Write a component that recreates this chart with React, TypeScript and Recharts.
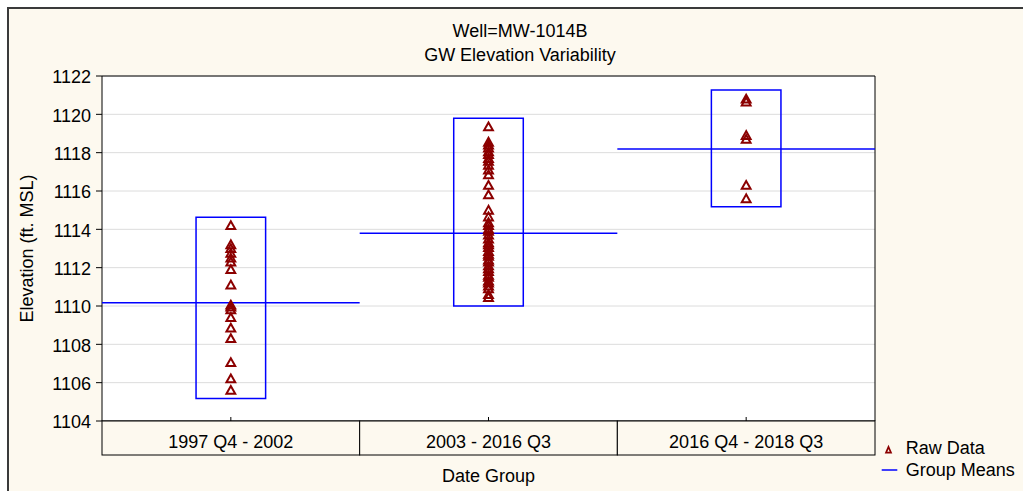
import React from 'react';
import {
  ComposedChart,
  Scatter,
  XAxis,
  YAxis,
  CartesianGrid,
  ReferenceArea,
  ReferenceLine,
  Legend,
} from 'recharts';

// groups along the x axis
const groups = ['1997 Q4 - 2002', '2003 - 2016 Q3', '2016 Q4 - 2018 Q3'];

// raw elevations (ft. MSL) per group
const group1Values = [
  1114.2, 1113.2, 1113.0, 1112.75, 1112.5, 1112.3, 1111.9, 1111.1, 1110.05,
  1109.95, 1109.8, 1109.4, 1108.85, 1108.3, 1107.05, 1106.2, 1105.6,
];
const group2Values = [
  1119.35, 1118.55, 1118.4, 1118.25, 1118.05, 1117.9, 1117.7, 1117.55, 1117.35,
  1117.1, 1116.85, 1116.3, 1115.8, 1115.0, 1114.65, 1114.35, 1114.2, 1114.0,
  1113.9, 1113.7, 1113.5, 1113.3, 1113.2, 1113.05, 1112.85, 1112.7, 1112.6,
  1112.4, 1112.3, 1112.1, 1111.95, 1111.8, 1111.6, 1111.5, 1111.3, 1111.2,
  1111.05, 1110.9, 1110.6, 1110.45,
];
const group3Values = [1120.8, 1120.65, 1118.9, 1118.7, 1116.3, 1115.6];

// group means and box limits
const groupMeans = [1110.17, 1113.79, 1118.19];
const boxLow = [1105.17, 1110.0, 1115.18];
const boxHigh = [1114.63, 1119.79, 1121.27];

const yTicks = [1104, 1106, 1108, 1110, 1112, 1114, 1116, 1118, 1120, 1122];

const FONT = '"Liberation Sans", Arial, sans-serif';
const CREAM = '#fdf9ef';
const RED = '#8b0000';
const BLUE = '#0000ff';

const CHART_W = 1014;
const CHART_H = 482;
const MARGIN = { top: 67, right: 148, bottom: 0, left: 13 };
const Y_AXIS_W = 80;
const X_AXIS_H = 70;
const STRIP_H = 34;
const PLOT_W = CHART_W - MARGIN.left - MARGIN.right - Y_AXIS_W;
const CAT_W = PLOT_W / groups.length;

const allGroups = [group1Values, group2Values, group3Values];
const rawData = allGroups.flatMap((vals, i) => vals.map((v) => ({ x: i + 0.5, y: v })));

const Triangle = (props: any) => {
  const { cx, cy } = props;
  if (cx == null || cy == null) return null;
  return (
    <polygon
      points={`${cx},${cy - 4.3} ${cx - 4.4},${cy + 3.5} ${cx + 4.4},${cy + 3.5}`}
      fill="none"
      stroke={RED}
      strokeWidth={2}
    />
  );
};

const GroupTick = (props: any) => {
  const { x, y, payload } = props;
  const idx = Math.round(payload.value - 0.5);
  return (
    <g>
      <rect x={x - CAT_W / 2} y={y} width={CAT_W} height={STRIP_H} fill={CREAM} stroke="#000" strokeWidth={1} />
      <line x1={x} y1={y - 4} x2={x} y2={y} stroke="#000" strokeWidth={1} />
      <text x={x} y={y + 27} textAnchor="middle" fontFamily={FONT} fontSize={18} fill="#000">
        {groups[idx]}
      </text>
    </g>
  );
};

const LegendBox = () => (
  <svg width={150} height={44} style={{ overflow: 'visible' }}>
    <polygon points="10.5,6.8 8,12.6 13,12.6" fill="none" stroke={RED} strokeWidth={1.7} />
    <text x={27.7} y={14.3} fontFamily={FONT} fontSize={18} fill="#000">
      Raw Data
    </text>
    <line x1={3.7} y1={30} x2={19.3} y2={30} stroke={BLUE} strokeWidth={1.5} />
    <text x={27.7} y={36} fontFamily={FONT} fontSize={18} fill="#000">
      Group Means
    </text>
  </svg>
);

export default function App() {
  return (
    <div style={{ position: 'fixed', left: 0, top: 0, width: 1023, height: 491, overflow: 'hidden', background: '#fff' }}>
      <div
        style={{
          position: 'absolute',
          left: 7,
          top: 7,
          width: 1040,
          height: 500,
          border: '2px solid #3a3a3a',
          background: CREAM,
        }}
      >
        {/* Title */}
        <div
          style={{
            position: 'absolute',
            left: 0,
            top: 10.3,
            width: 1022,
            textAlign: 'center',
            fontFamily: FONT,
            fontSize: 18,
            lineHeight: '24px',
            color: '#000',
          }}
        >
          Well=MW-1014B
          <br />
          GW Elevation Variability
        </div>

        <ComposedChart width={CHART_W} height={CHART_H} margin={MARGIN}>
          <CartesianGrid vertical={false} stroke="#dcdcdc" fill="#ffffff" />
          <XAxis
            type="number"
            dataKey="x"
            domain={[0, groups.length]}
            ticks={groups.map((_, i) => i + 0.5)}
            height={X_AXIS_H}
            axisLine={false}
            tickLine={false}
            tickSize={0}
            tickMargin={0}
            tick={<GroupTick />}
            label={{
              value: 'Date Group',
              position: 'insideBottom',
              offset: 9,
              fill: '#000',
              fontSize: 18,
              fontFamily: FONT,
            }}
          />
          <YAxis
            type="number"
            dataKey="y"
            domain={[1104, 1122]}
            ticks={yTicks}
            width={Y_AXIS_W}
            axisLine={false}
            tickLine={{ stroke: '#000' }}
            tickSize={6}
            tickMargin={5}
            tick={{ fill: '#000', fontSize: 18, fontFamily: FONT, dy: 1 }}
            label={{
              value: 'Elevation (ft. MSL)',
              angle: -90,
              position: 'insideLeft',
              offset: 5,
              fill: '#000',
              fontSize: 18,
              fontFamily: FONT,
              style: { textAnchor: 'middle' },
            }}
          />
          {/* plot border */}
          <ReferenceArea x1={0} x2={groups.length} y1={1104} y2={1122} fill="none" stroke="#000" strokeWidth={1} />
          {groups.map((g, i) => (
            <ReferenceLine
              key={`mean-${g}`}
              segment={[
                { x: i, y: groupMeans[i] },
                { x: i + 1, y: groupMeans[i] },
              ]}
              stroke={BLUE}
              strokeWidth={1.5}
            />
          ))}
          {groups.map((g, i) => (
            <ReferenceArea
              key={`box-${g}`}
              x1={i + 0.5 - 0.135}
              x2={i + 0.5 + 0.135}
              y1={boxLow[i]}
              y2={boxHigh[i]}
              fill="none"
              stroke={BLUE}
              strokeWidth={1.5}
            />
          ))}
          <Scatter name="Raw Data" data={rawData} shape={<Triangle />} isAnimationActive={false} />
          <Legend
            layout="horizontal"
            align="center"
            verticalAlign="middle"
            content={<LegendBox />}
            wrapperStyle={{ position: 'absolute', left: 869, top: 431, width: 150, height: 44 }}
          />
        </ComposedChart>
      </div>
    </div>
  );
}
